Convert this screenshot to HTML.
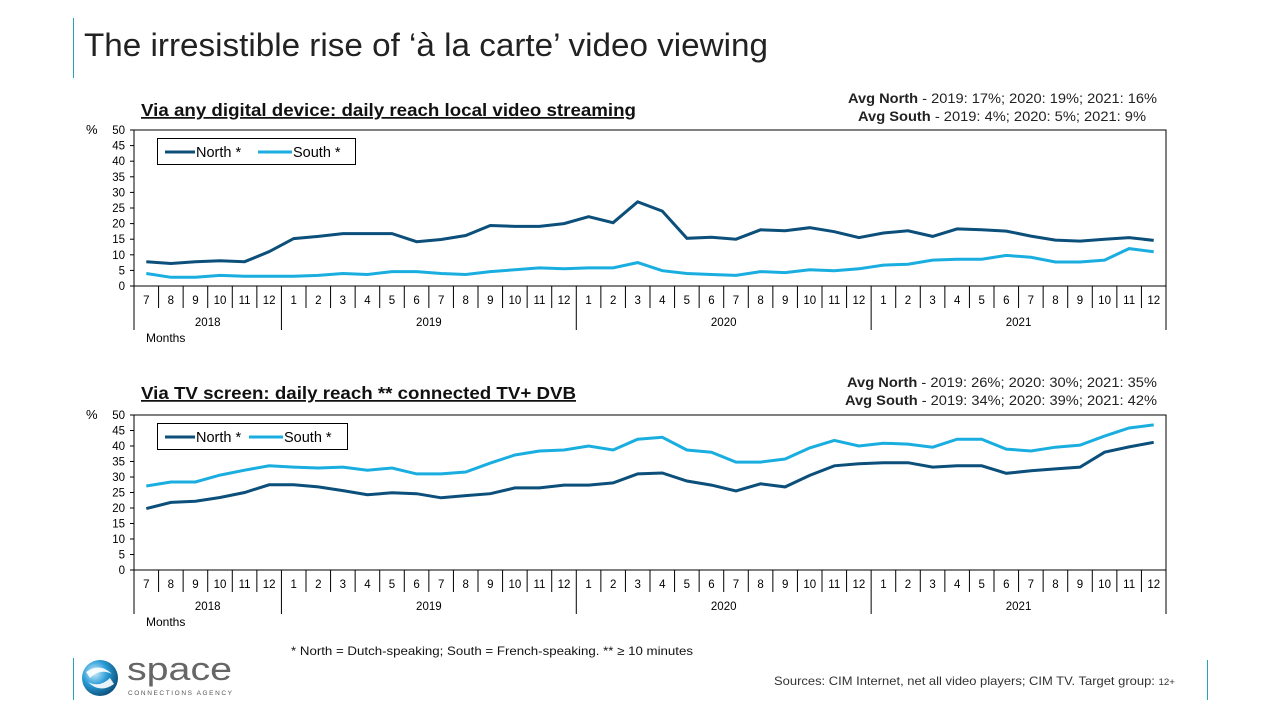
<!DOCTYPE html>
<html><head><meta charset="utf-8"><style>
body{margin:0;background:#fff;font-family:"Liberation Sans",Arial,sans-serif}
svg{display:block}
</style></head><body>
<svg id="s" width="1280" height="720" xmlns="http://www.w3.org/2000/svg" font-family="Liberation Sans, Arial, sans-serif">
<line x1="73.5" y1="18" x2="73.5" y2="78" stroke="#2aa3b8" stroke-width="1"/>
<text x="84" y="56" font-size="32" fill="#222" textLength="684" lengthAdjust="spacingAndGlyphs">The irresistible rise of ‘à la carte’ video viewing</text>
<text x="1157" y="103" font-size="13.5" text-anchor="end" fill="#222" textLength="309" lengthAdjust="spacingAndGlyphs"><tspan font-weight="bold">Avg North</tspan> - 2019: 17%; 2020: 19%; 2021: 16%</text>
<text x="1146" y="121" font-size="13.5" text-anchor="end" fill="#222" textLength="288" lengthAdjust="spacingAndGlyphs"><tspan font-weight="bold">Avg South</tspan> - 2019: 4%; 2020: 5%; 2021: 9%</text>
<text x="1157" y="387" font-size="13.5" text-anchor="end" fill="#222" textLength="310" lengthAdjust="spacingAndGlyphs"><tspan font-weight="bold">Avg North</tspan> - 2019: 26%; 2020: 30%; 2021: 35%</text>
<text x="1157" y="405" font-size="13.5" text-anchor="end" fill="#222" textLength="312" lengthAdjust="spacingAndGlyphs"><tspan font-weight="bold">Avg South</tspan> - 2019: 34%; 2020: 39%; 2021: 42%</text>
<text x="141" y="116" font-size="17.5" font-weight="bold" fill="#111" text-decoration="underline" textLength="495" lengthAdjust="spacingAndGlyphs">Via any digital device: daily reach local video streaming</text>
<text x="141" y="399" font-size="17.5" font-weight="bold" fill="#111" text-decoration="underline" textLength="435" lengthAdjust="spacingAndGlyphs">Via TV screen: daily reach ** connected TV+ DVB</text>
<g id="c1"></g><g id="c2"></g>
<text x="291" y="655" font-size="12" fill="#111" textLength="402" lengthAdjust="spacingAndGlyphs">* North = Dutch-speaking;  South = French-speaking.  ** ≥ 10 minutes</text>
<text x="1175" y="685" font-size="12" text-anchor="end" fill="#333" textLength="401" lengthAdjust="spacingAndGlyphs">Sources: CIM Internet, net all video players; CIM TV.  Target group: <tspan font-size="9">12+</tspan></text>
<line x1="1207.5" y1="660" x2="1207.5" y2="700" stroke="#2aa3b8"/>
<line x1="73.5" y1="658" x2="73.5" y2="700" stroke="#2aa3b8"/>
<defs><radialGradient id="g" cx="0.35" cy="0.35" r="0.7"><stop offset="0" stop-color="#cfefff"/><stop offset="0.5" stop-color="#2a9bd6"/><stop offset="1" stop-color="#0b4f7a"/></radialGradient></defs>
<circle cx="100" cy="678" r="18" fill="url(#g)"/>
<path d="M86 672 Q100 662 112 674 Q100 668 90 678Z" fill="#fff" opacity="0.9"/>
<path d="M114 684 Q100 694 88 682 Q100 688 110 678Z" fill="#fff" opacity="0.9"/>
<text x="127" y="680" font-size="32" fill="#666" textLength="105" lengthAdjust="spacingAndGlyphs">space</text>
<text x="128" y="695" font-size="6.5" fill="#555" textLength="104" lengthAdjust="spacing">CONNECTIONS AGENCY</text>
</svg>
<script>
const N1=[7.8,7.2,7.8,8.1,7.8,11,15.2,15.9,16.8,16.8,16.8,14.2,14.9,16.2,19.4,19.1,19.1,20,22.2,20.3,27,24,15.3,15.6,15,18,17.7,18.7,17.4,15.5,17,17.7,15.9,18.3,18,17.6,16,14.7,14.4,15,15.5,14.6];
const S1=[4,2.8,2.8,3.4,3.1,3.1,3.1,3.4,4,3.7,4.6,4.6,4,3.7,4.6,5.2,5.8,5.5,5.8,5.8,7.5,4.9,4,3.7,3.4,4.6,4.3,5.2,4.9,5.5,6.7,7,8.3,8.6,8.6,9.8,9.2,7.7,7.7,8.3,12,11];
const N2=[19.8,21.8,22.2,23.4,25,27.5,27.5,26.8,25.6,24.3,24.9,24.6,23.3,24,24.6,26.5,26.5,27.4,27.4,28.1,31,31.3,28.7,27.4,25.5,27.8,26.8,30.5,33.6,34.3,34.6,34.6,33.2,33.6,33.6,31.2,32,32.6,33.2,38,39.7,41.2];
const S2=[27.1,28.4,28.4,30.6,32.2,33.6,33.2,32.9,33.2,32.2,32.9,31,31,31.6,34.5,37.1,38.4,38.7,40,38.7,42.2,42.8,38.7,38,34.8,34.8,35.8,39.4,41.8,40,40.9,40.6,39.6,42.2,42.2,39,38.4,39.6,40.3,43.2,45.8,46.8];
function chart(id,top,bot,N,S,legW){
 const L=134,R=1166,w=(R-L)/42;let h='';
 const y=v=>bot-(v/50)*(bot-top);
 h+=`<rect x="${L}" y="${top}" width="${R-L}" height="${bot-top}" fill="none" stroke="#000" stroke-width="1"/>`;
 for(let v=0;v<=50;v+=5){h+=`<line x1="${L-4}" x2="${L}" y1="${y(v)}" y2="${y(v)}" stroke="#000"/><text x="${L-9}" y="${y(v)+4}" font-size="11.5" text-anchor="end">${v}</text>`;}
 h+=`<text x="86" y="${top+4}" font-size="13">%</text>`;
 const months=[];for(let m=7;m<=12;m++)months.push(m);for(let k=0;k<3;k++)for(let m=1;m<=12;m++)months.push(m);
 for(let i=0;i<=42;i++){const x=L+i*w;const yb=[0,6,18,30,42].includes(i)?bot+44:bot+22;h+=`<line x1="${x}" x2="${x}" y1="${bot}" y2="${yb}" stroke="#000"/>`;}
 months.forEach((m,i)=>{h+=`<text x="${L+(i+0.5)*w}" y="${bot+18}" font-size="11.5" text-anchor="middle">${m}</text>`});
 [["2018",3],["2019",12],["2020",24],["2021",36]].forEach(([t,c])=>{h+=`<text x="${L+c*w}" y="${bot+40}" font-size="11.5" text-anchor="middle">${t}</text>`});
 h+=`<text x="146" y="${bot+56}" font-size="12">Months</text>`;
 const pl=(d,c)=>`<polyline fill="none" stroke="${c}" stroke-width="3" points="${d.map((v,i)=>(L+(i+0.5)*w).toFixed(1)+','+y(v).toFixed(1)).join(' ')}"/>`;
 h+=pl(S,'#1aaee0')+pl(N,'#0b4f7a');
 const ly=top+8;
 h+=`<rect x="157.5" y="${ly+0.5}" width="${legW}" height="26" fill="#fff" stroke="#000"/>`;
 h+=`<line x1="165" x2="195" y1="${ly+14}" y2="${ly+14}" stroke="#0b4f7a" stroke-width="3"/><text x="196" y="${ly+19}" font-size="14.5">North *</text>`;
 const sx=legW>190?258:249;
 h+=`<line x1="${sx}" x2="${sx+34}" y1="${ly+14}" y2="${ly+14}" stroke="#1aaee0" stroke-width="3"/><text x="${sx+35}" y="${ly+19}" font-size="14.5">South *</text>`;
 document.getElementById(id).innerHTML=h;
}
chart('c1',130,286,N1,S1,198);
chart('c2',415,570,N2,S2,190);
</script>
</body></html>
